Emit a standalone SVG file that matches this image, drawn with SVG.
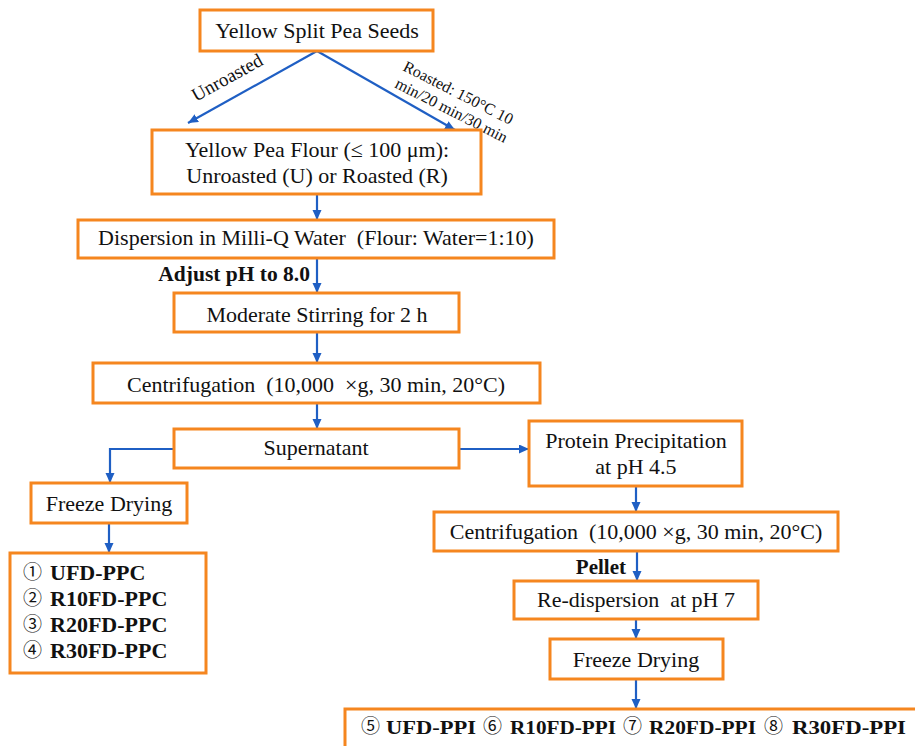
<svg xmlns="http://www.w3.org/2000/svg" width="915" height="746" viewBox="0 0 915 746" font-family="Liberation Serif, serif">
<defs>
<style>
text{font-family:"Liberation Serif",serif}
.box{fill:#fff;stroke:#F5861F;stroke-width:3}
.t{font-size:22px;fill:#111;text-anchor:middle;white-space:pre}
.b{font-weight:bold;fill:#111}
text.c{font-family:"Noto Sans CJK SC","DejaVu Sans",sans-serif;fill:#111}
.lbl{fill:#111}
.con{fill:none;stroke:#1F5FC4;stroke-width:2.2}
</style>
<marker id="ah" markerUnits="userSpaceOnUse" markerWidth="11" markerHeight="10" refX="10" refY="4.5" orient="auto">
<path d="M0,0 L10,4.5 L0,9 Z" fill="#1F5FC4"/>
</marker>
</defs>
<rect width="915" height="746" fill="#fff"/>

<g id="connectors">
<line class="con" x1="317" y1="51" x2="188" y2="123" marker-end="url(#ah)"/>
<line class="con" x1="317" y1="51" x2="455" y2="130" marker-end="url(#ah)"/>
<line class="con" x1="317" y1="194" x2="317" y2="220" marker-end="url(#ah)"/>
<line class="con" x1="317" y1="258" x2="317" y2="293" marker-end="url(#ah)"/>
<line class="con" x1="317" y1="332" x2="317" y2="363" marker-end="url(#ah)"/>
<line class="con" x1="317" y1="403" x2="317" y2="429" marker-end="url(#ah)"/>
<polyline class="con" points="174,449 110,449 110,483" marker-end="url(#ah)"/>
<line class="con" x1="459" y1="449" x2="529" y2="449" marker-end="url(#ah)"/>
<line class="con" x1="109" y1="523" x2="109" y2="553" marker-end="url(#ah)"/>
<line class="con" x1="636" y1="486" x2="636" y2="512" marker-end="url(#ah)"/>
<line class="con" x1="637" y1="551" x2="637" y2="581" marker-end="url(#ah)"/>
<line class="con" x1="636" y1="619" x2="636" y2="639" marker-end="url(#ah)"/>
<line class="con" x1="636" y1="679" x2="636" y2="709" marker-end="url(#ah)"/>
<text class="lbl" x="196" y="102" font-size="19" transform="rotate(-29 196 102)">Unroasted</text>
<text class="lbl" x="402" y="70" font-size="16" transform="rotate(27 402 70)">Roasted: 150°C 10</text>
<text class="lbl" x="394" y="87" font-size="16" transform="rotate(27 394 87)">min/20 min/30 min</text>
<text class="b" x="310" y="281" font-size="21.5" text-anchor="end">Adjust pH to 8.0</text>
<text class="b" x="626" y="574" font-size="21" text-anchor="end">Pellet</text>
</g>

<g id="seeds">
<rect class="box" x="200" y="10" width="233" height="41"/>
<text class="t" x="317" y="38">Yellow Split Pea Seeds</text>
</g>

<g id="flour">
<rect class="box" x="152" y="130" width="329" height="64"/>
<text class="t" x="317" y="157">Yellow Pea Flour (≤ 100 μm):</text>
<text class="t" x="317" y="183">Unroasted (U) or Roasted (R)</text>
</g>

<g id="dispersion">
<rect class="box" x="78" y="220" width="476" height="38"/>
<text class="t" x="316" y="245">Dispersion in Milli-Q Water  (Flour: Water=1:10)</text>
</g>

<g id="stirring">
<rect class="box" x="174" y="293" width="285" height="39"/>
<text class="t" x="317" y="322">Moderate Stirring for 2 h</text>
</g>

<g id="centrifugation1">
<rect class="box" x="93" y="363" width="447" height="40"/>
<text class="t" x="316" y="392">Centrifugation  (10,000  ×g, 30 min, 20°C)</text>
</g>

<g id="supernatant">
<rect class="box" x="174" y="429" width="285" height="39"/>
<text class="t" x="316" y="455">Supernatant</text>
</g>

<g id="freeze1">
<rect class="box" x="31" y="483" width="156" height="40"/>
<text class="t" x="109" y="511">Freeze Drying</text>
</g>

<g id="ppc">
<rect class="box" x="10" y="553" width="196" height="120"/>
<text class="c" x="23" y="579" font-size="19">①</text>
<text class="b" x="50" y="580" font-size="22">UFD-PPC</text>
<text class="c" x="23" y="605" font-size="19">②</text>
<text class="b" x="50" y="606" font-size="22">R10FD-PPC</text>
<text class="c" x="23" y="631" font-size="19">③</text>
<text class="b" x="50" y="632" font-size="22">R20FD-PPC</text>
<text class="c" x="23" y="657" font-size="19">④</text>
<text class="b" x="50" y="658" font-size="22">R30FD-PPC</text>
</g>

<g id="precipitation">
<rect class="box" x="529" y="421" width="213" height="65"/>
<text class="t" x="636" y="448">Protein Precipitation</text>
<text class="t" x="636" y="474">at pH 4.5</text>
</g>

<g id="centrifugation2">
<rect class="box" x="434" y="512" width="404" height="39"/>
<text class="t" x="636" y="539">Centrifugation  (10,000 ×g, 30 min, 20°C)</text>
</g>

<g id="redispersion">
<rect class="box" x="514" y="581" width="244" height="38"/>
<text class="t" x="636" y="607">Re-dispersion  at pH 7</text>
</g>

<g id="freeze2">
<rect class="box" x="550" y="639" width="173" height="40"/>
<text class="t" x="636" y="667">Freeze Drying</text>
</g>

<g id="ppi">
<rect class="box" x="345" y="709" width="600" height="60"/>
<text class="c" x="361" y="733" font-size="19">⑤</text>
<text class="b" x="386" y="734" font-size="19.5" textLength="90" lengthAdjust="spacingAndGlyphs">UFD-PPI</text>
<text class="c" x="483" y="733" font-size="19">⑥</text>
<text class="b" x="510" y="734" font-size="19.5" textLength="106" lengthAdjust="spacingAndGlyphs">R10FD-PPI</text>
<text class="c" x="623" y="733" font-size="19">⑦</text>
<text class="b" x="649" y="734" font-size="19.5" textLength="107" lengthAdjust="spacingAndGlyphs">R20FD-PPI</text>
<text class="c" x="764" y="733" font-size="19">⑧</text>
<text class="b" x="792" y="734" font-size="19.5" textLength="114" lengthAdjust="spacingAndGlyphs">R30FD-PPI</text>
</g>
</svg>
